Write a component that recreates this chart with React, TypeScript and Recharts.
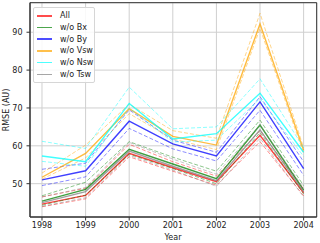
import React from 'react';
import { LineChart, Line, XAxis, YAxis, CartesianGrid, ReferenceArea, Label } from 'recharts';

const years = [1998, 1999, 2000, 2001, 2002, 2003, 2004];
const yTicks = [50, 60, 70, 80, 90];

// RMSE per year: mean and the dashed lower / upper bounds
const allMean = [44.6, 46.9, 58.0, 54.2, 50.5, 62.8, 47.6];
const allLo = [43.9, 46.0, 57.1, 53.3, 49.6, 61.1, 46.8];
const allHi = [46.5, 48.8, 60.4, 55.8, 52.0, 64.0, 48.6];

const bxMean = [45.4, 48.5, 59.1, 55.2, 51.3, 65.5, 48.3];
const bxLo = [44.3, 47.0, 57.8, 54.0, 50.0, 63.5, 47.3];
const bxHi = [46.8, 50.4, 61.1, 57.0, 53.3, 66.8, 49.5];

const byMean = [51.0, 53.4, 66.5, 60.5, 57.3, 71.6, 54.0];
const byLo = [49.5, 51.8, 64.6, 59.2, 56.0, 69.4, 52.2];
const byHi = [53.8, 55.4, 69.5, 61.5, 58.3, 73.0, 55.8];

const vswMean = [51.7, 58.0, 69.8, 62.5, 60.2, 92.2, 58.8];
const vswLo = [51.2, 56.8, 68.5, 61.8, 59.0, 91.0, 58.0];
const vswHi = [52.8, 60.2, 71.0, 64.0, 62.0, 95.0, 59.5];

const nswMean = [57.3, 55.8, 71.2, 61.8, 63.2, 73.9, 58.3];
const nswLo = [55.9, 54.6, 70.0, 61.0, 61.5, 72.5, 57.2];
const nswHi = [61.2, 59.3, 75.5, 64.5, 65.0, 77.7, 59.5];

const tswMean = [45.0, 47.9, 58.6, 54.6, 50.8, 64.2, 47.9];
const tswLo = [44.0, 46.3, 57.5, 53.6, 49.3, 62.0, 46.5];
const tswHi = [46.5, 49.0, 60.9, 56.5, 52.5, 65.5, 48.8];

const series = [
  { key: 'all', name: 'All', color: '#ff0000', mean: allMean, lo: allLo, hi: allHi },
  { key: 'bx', name: 'w/o Bx', color: '#008000', mean: bxMean, lo: bxLo, hi: bxHi },
  { key: 'by', name: 'w/o By', color: '#0000ff', mean: byMean, lo: byLo, hi: byHi },
  { key: 'vsw', name: 'w/o Vsw', color: '#ffa500', mean: vswMean, lo: vswLo, hi: vswHi },
  { key: 'nsw', name: 'w/o Nsw', color: '#00ffff', mean: nswMean, lo: nswLo, hi: nswHi },
  { key: 'tsw', name: 'w/o Tsw', color: '#808080', mean: tswMean, lo: tswLo, hi: tswHi },
];

const data = years.map((year, i) => {
  const row: Record<string, number> = { year };
  series.forEach((s) => {
    row[s.key] = s.mean[i];
    row[s.key + 'Lo'] = s.lo[i];
    row[s.key + 'Hi'] = s.hi[i];
  });
  return row;
});

const FONT = '"DejaVu Sans", sans-serif';
const xDomain = [1997.725, 2004.3];
const yDomain = [41.2, 97.8];

const tickStyle = { fontSize: 8, fill: '#222', fontFamily: FONT };

function ChartLegend() {
  return (
    <div
      style={{
        position: 'absolute',
        left: 33,
        top: 7,
        width: 62,
        padding: '2px 0',
        background: 'rgba(255,255,255,0.85)',
        border: '1px solid #d6d6d6',
        borderRadius: 2,
        fontFamily: FONT,
        fontSize: 8,
        color: '#222',
        boxSizing: 'border-box',
      }}
    >
      {series.map((s) => (
        <div key={s.key} style={{ display: 'flex', alignItems: 'center', height: 11.7 }}>
          <div style={{ width: 15, height: 1.5, marginLeft: 3, background: s.color, opacity: 0.7 }} />
          <span style={{ marginLeft: 8, lineHeight: '11px' }}>{s.name}</span>
        </div>
      ))}
    </div>
  );
}

export default function App() {
  return (
    <div style={{ position: 'absolute', left: 0, top: 0, width: 320, height: 243, background: '#fff' }}>
      <LineChart width={320} height={243} data={data} margin={{ top: 2.7, right: 3.3, bottom: 0, left: 0 }}>
        <CartesianGrid stroke="#cfcfcf" strokeWidth={1} />
        <XAxis
          dataKey="year"
          type="number"
          domain={xDomain}
          ticks={years}
          allowDataOverflow
          height={26}
          tickSize={3.5}
          tickMargin={2}
          tick={tickStyle}
          axisLine={{ stroke: '#333' }}
          tickLine={{ stroke: '#333' }}
        >
          <Label
            content={() => (
              <text x={173} y={237} textAnchor="middle" dominantBaseline="central" fontSize={8} fontFamily={FONT} fill="#222">
                Year
              </text>
            )}
          />
        </XAxis>
        <YAxis
          type="number"
          domain={yDomain}
          ticks={yTicks}
          allowDataOverflow
          width={30}
          tickSize={3.5}
          tickMargin={4}
          tick={tickStyle}
          axisLine={{ stroke: '#333' }}
          tickLine={{ stroke: '#333' }}
        >
          <Label
            content={() => (
              <text
                x={6.5}
                y={110}
                transform="rotate(-90 6.5 110)"
                textAnchor="middle"
                dominantBaseline="central"
                fontSize={8}
                fontFamily={FONT}
                fill="#222"
              >
                RMSE (AU)
              </text>
            )}
          />
        </YAxis>
        <ReferenceArea x1={xDomain[0]} x2={xDomain[1]} y1={yDomain[0]} y2={yDomain[1]} fill="none" stroke="#333" strokeWidth={1} />
        {series.flatMap((s) => [
          <Line
            key={s.key}
            dataKey={s.key}
            type="linear"
            stroke={s.color}
            strokeOpacity={0.75}
            strokeWidth={1.4}
            dot={false}
            activeDot={false}
            isAnimationActive={false}
          />,
          <Line
            key={s.key + 'Lo'}
            dataKey={s.key + 'Lo'}
            type="linear"
            stroke={s.color}
            strokeOpacity={0.45}
            strokeWidth={1}
            strokeDasharray="4 2"
            dot={false}
            activeDot={false}
            isAnimationActive={false}
          />,
          <Line
            key={s.key + 'Hi'}
            dataKey={s.key + 'Hi'}
            type="linear"
            stroke={s.color}
            strokeOpacity={0.45}
            strokeWidth={1}
            strokeDasharray="4 2"
            dot={false}
            activeDot={false}
            isAnimationActive={false}
          />,
        ])}
      </LineChart>
      <ChartLegend />
    </div>
  );
}
